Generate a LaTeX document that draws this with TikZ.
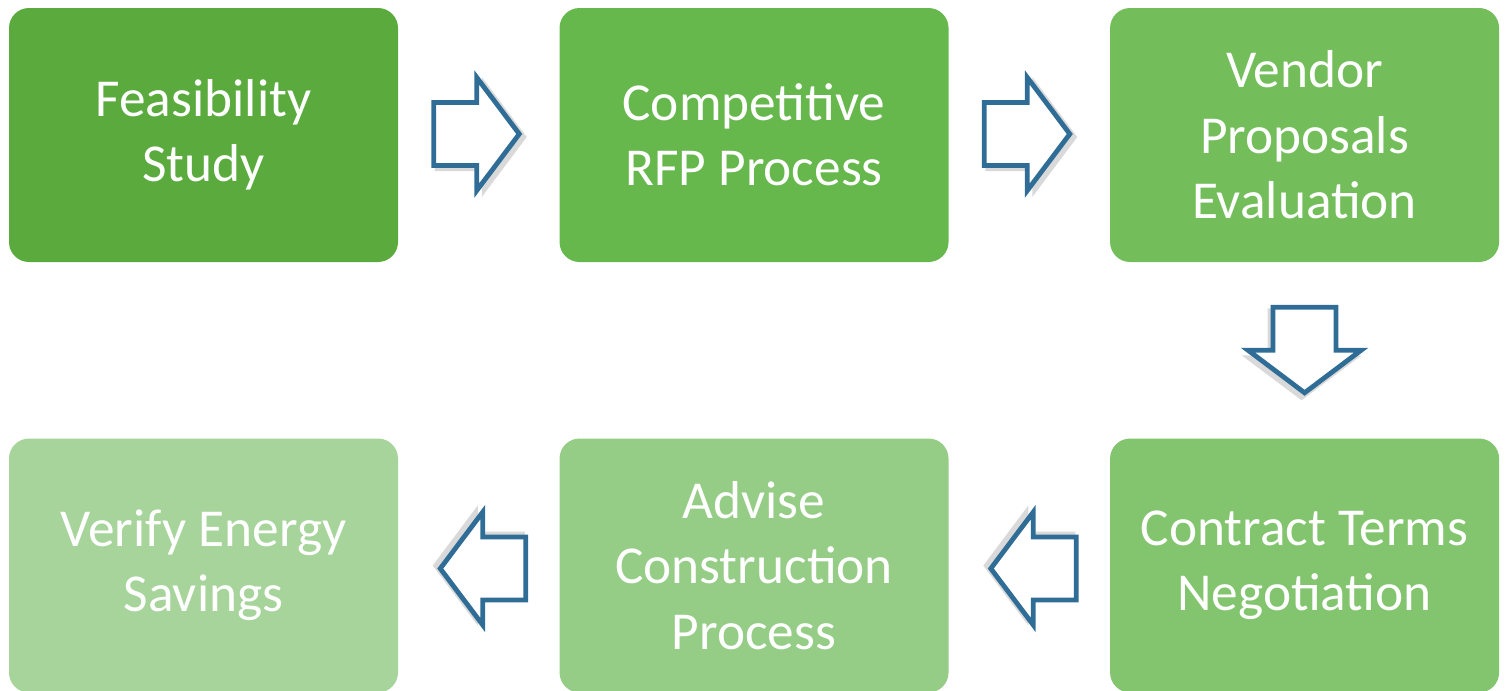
\documentclass[tikz,border=0pt]{standalone}
\usepackage{fontspec}
\setmainfont{Carlito}
\usetikzlibrary{positioning,calc}

\definecolor{stepA}{HTML}{5AAA3E}
\definecolor{stepB}{HTML}{66B74C}
\definecolor{stepC}{HTML}{73BE5B}
\definecolor{stepD}{HTML}{83C56F}
\definecolor{stepE}{HTML}{95CC86}
\definecolor{stepF}{HTML}{A6D49B}
\definecolor{arrowblue}{HTML}{2F6D96}

\tikzset{
    stepbox/.style={
        rounded corners=15pt, inner sep=0pt,
        minimum width=291.75pt, minimum height=190.5pt,
        text=white, align=center,
        font=\fontsize{40}{49}\selectfont
    },
    flowarrow/.pic={
        % shadow
        \fill[black, opacity=0.15, shift={(3,-3)}]
            (-45,34) -- (2,34) -- (2,60) -- (47,0) -- (2,-60) -- (2,-34) -- (-45,-34) -- cycle;
        % outline
        \draw[arrowblue, line width=3.6pt, fill=white, line join=miter]
            (-43,31.5) -- (0,31.5) -- (0,56.5) -- (42.5,0) -- (0,-56.5) -- (0,-31.5) -- (-43,-31.5) -- cycle;
    }
}

\begin{document}
\begin{tikzpicture}[x=0.75pt,y=0.75pt]

    % Frame
    \useasboundingbox (0,0) rectangle (1506,-690);

    % Top row
    \node[stepbox, fill=stepA] (feas) at (203.5,-135) {Feasibility\\Study};
    \node[stepbox, fill=stepB, right=120.75pt of feas] (rfp) {Competitive\\RFP Process};
    \node[stepbox, fill=stepC, right=120.75pt of rfp] (vendor) {Vendor\\Proposals\\Evaluation};

    % Bottom row
    \node[stepbox, fill=stepD, below=132pt of vendor] (contract) {Contract Terms\\Negotiation};
    \node[stepbox, fill=stepE, left=120.75pt of contract] (advise) {Advise\\Construction\\Process};
    \node[stepbox, fill=stepF, left=120.75pt of advise] (verify) {Verify Energy\\Savings};

    % Block arrows between the steps
    \pic at ($(feas.east)!0.5!(rfp.west)+(-2,1)$) {flowarrow};
    \pic at ($(rfp.east)!0.5!(vendor.west)+(-2,1)$) {flowarrow};
    \pic[rotate=-90] at ($(vendor.south)!0.5!(contract.north)$) {flowarrow};
    \pic[rotate=180] at ($(contract.west)!0.5!(advise.east)+(4,-3)$) {flowarrow};
    \pic[rotate=180] at ($(advise.west)!0.5!(verify.east)+(4,-3)$) {flowarrow};

\end{tikzpicture}
\end{document}
